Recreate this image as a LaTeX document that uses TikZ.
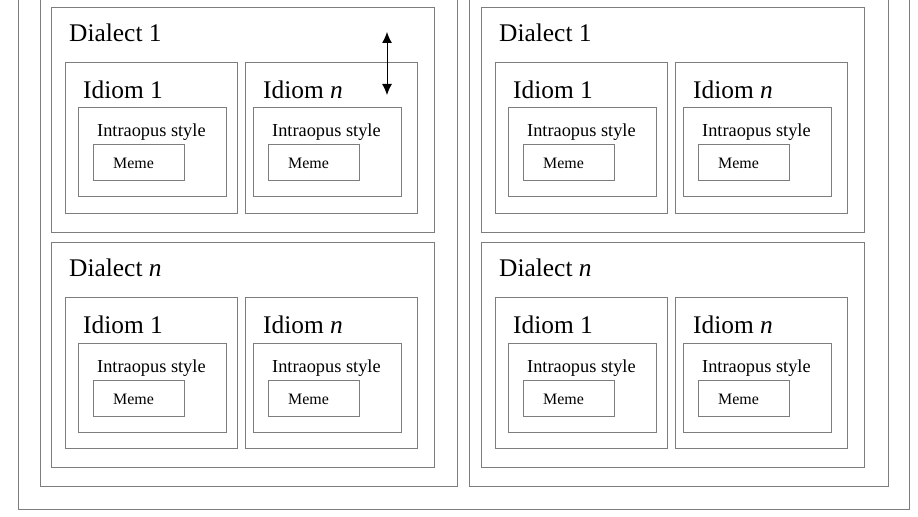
\documentclass[tikz,border=0pt]{standalone}
\usepackage{fontspec}
\setmainfont{Liberation Serif}
\usetikzlibrary{arrows.meta}
\definecolor{boxgray}{RGB}{125,125,125}
\begin{document}
\begin{tikzpicture}[x=1bp,y=-1bp,
  box/.style 2 args={draw=boxgray, line width=1bp, anchor=north west,
    inner sep=0pt, outer sep=0pt, minimum width=#1bp, minimum height=#2bp},
  biglab/.style={anchor=base west, inner sep=0pt, font=\fontsize{25.5}{30}\selectfont},
  midlab/.style={anchor=base west, inner sep=0pt, font=\fontsize{18.4}{22}\selectfont},
  smalllab/.style={anchor=base west, inner sep=0pt, font=\fontsize{16}{19}\selectfont},
  dbl/.style={{Latex[length=11bp,width=10bp]}-{Latex[length=11bp,width=10bp]}, line width=1bp, black}
]
\useasboundingbox (0,0) rectangle (918,517);
\clip (0,0) rectangle (918,517);
\fill[white] (0,0) rectangle (918,517);
\node[box={891}{529}] (outer) at (18,-20) {};
\node[box={417}{506}] (styleL) at (40,-20) {};
\node[box={419}{506}] (styleR) at (469,-20) {};
\foreach \cx/\c in {0/L,430/R}{
  \foreach \ry/\r/\rt in {0/1/1,235/n/{\textit{n}}}{
    \begin{scope}[shift={(\cx,\ry)}]
      \node[box={383}{224}] (dia-\c-\r) at (51,8) {};
      \node[biglab] (dialab-\c-\r) at (69,42) {Dialect \rt};
      \foreach \ix/\jx/\i/\itx in {0/0/1/1,180/175/n/{\textit{n}}}{
        \node[box={172}{150}] (idi-\c-\r-\i) at ({65+\ix},63) {};
        \node[biglab] (idilab-\c-\r-\i) at ({83+\ix},99) {Idiom \itx};
        \node[box={148}{89}] (intra-\c-\r-\i) at ({78+\jx},108) {};
        \node[midlab] (intralab-\c-\r-\i) at ({97+\jx},137) {Intraopus style};
        \node[box={91}{36}] (meme-\c-\r-\i) at ({93+\jx},145) {};
        \node[smalllab] (memelab-\c-\r-\i) at ({113+\jx},169) {Meme};
      }
    \end{scope}
  }
}
\coordinate (arrT) at (387,32);
\coordinate (arrB) at (387,95);
\draw[dbl] (arrT) -- (arrB);
\end{tikzpicture}
\end{document}
